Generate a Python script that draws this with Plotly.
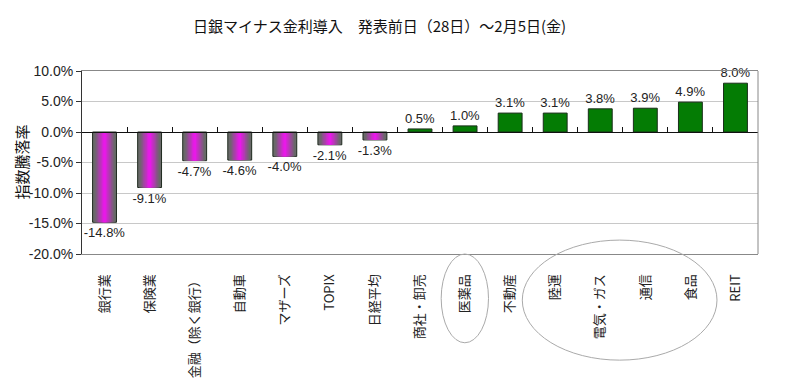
import numpy as np
import plotly.graph_objects as go

categories = ['銀行業', '保険業', '金融（除く銀行）', '自動車', 'マザーズ', 'TOPIX', '日経平均',
              '商社・卸売', '医薬品', '不動産', '陸運', '電気・ガス', '通信', '食品', 'REIT']
values = [-14.8, -9.1, -4.7, -4.6, -4.0, -2.1, -1.3, 0.5, 1.0, 3.1, 3.1, 3.8, 3.9, 4.9, 8.0]
title_text = '日銀マイナス金利導入　発表前日（28日）～2月5日(金)'
y_title = '指数騰落率'
y_ticks = [10, 5, 0, -5, -10, -15, -20]

OFF = 8  # page body margin
W, H = 800 - OFF, 383 - OFF
ML, MR, MT, MB = 82 - OFF, 42, 71 - OFF, 129
pw = W - ML - MR
ph = H - MT - MB

n = len(categories)
xs = list(range(n))
neg_x = [i for i, v in enumerate(values) if v < 0]
neg_v = [values[i] for i in neg_x]
pos_x = [i for i, v in enumerate(values) if v >= 0]
pos_v = [values[i] for i in pos_x]

BW = 0.53
fig = go.Figure()

edge = np.array([105, 105, 105])
center = np.array([242, 20, 242])
N = 9
for k in range(N):
    w = BW * (1 - k / N)
    t = 1 - (k + 0.5) / N
    t = min(1.0, t * 1.25)
    c = (center * (1 - t) + edge * t).astype(int)
    first = (k == 0)
    fig.add_trace(go.Bar(
        x=neg_x, y=neg_v, width=w,
        marker=dict(color=f'rgb({c[0]},{c[1]},{c[2]})',
                    line=dict(color='#1e2a1e' if first else 'rgba(0,0,0,0)', width=1 if first else 0)),
        text=[f'{v:.1f}%' for v in neg_v] if first else None,
        textposition='outside' if first else 'none',
        constraintext='none',
        textfont=dict(size=13, color='#222', family='Liberation Sans, Arial'),
        cliponaxis=False, hoverinfo='skip', showlegend=False,
    ))

fig.add_trace(go.Bar(
    x=pos_x, y=pos_v, width=BW,
    marker=dict(color='#047c04', line=dict(color='#1a2e1a', width=1)),
    text=[f'{v:.1f}%' for v in pos_v], textposition='outside',
    constraintext='none',
    textfont=dict(size=13, color='#222', family='Liberation Sans, Arial'),
    cliponaxis=False, showlegend=False,
))

fig.update_layout(
    width=W, height=H,
    margin=dict(l=ML, r=MR, t=MT, b=MB, pad=0),
    paper_bgcolor='white', plot_bgcolor='white',
    barmode='overlay',
    font=dict(family='Liberation Sans, Arial, Noto Sans CJK JP', size=13, color='#222'),
    xaxis=dict(
        type='linear', range=[-0.5, n - 0.5], automargin=False,
        tickmode='array', tickvals=xs, ticktext=categories,
        tickangle=-90, ticks='', showgrid=False, zeroline=False,
        showline=True, mirror=True, linecolor='#888', linewidth=1,
        tickfont=dict(family='Noto Sans CJK JP, Liberation Sans', size=13, color='#222'),
        ticklabelstandoff=14,
    ),
    xaxis2=dict(
        overlaying='x', anchor='free', position=2 / 3, side='bottom', automargin=False,
        type='linear', range=[-0.5, n - 0.5],
        tickmode='array', tickvals=[i + 0.5 for i in range(n - 1)],
        ticks='inside', ticklen=5, tickcolor='#111', tickwidth=1,
        showticklabels=False, showgrid=False, zeroline=False,
        showline=True, linecolor='#111', linewidth=1,
    ),
    yaxis=dict(
        range=[-20, 10], tickmode='array', tickvals=y_ticks, automargin=False,
        ticktext=[f'{v:.1f}%' for v in y_ticks],
        ticks='outside', ticklen=5, tickcolor='#333',
        showline=True, linecolor='#333', linewidth=1,
        showgrid=True, gridcolor='#c8c8c8', gridwidth=1, zeroline=False,
        tickfont=dict(size=14, color='#222', family='Liberation Sans, Arial'),
    ),
    shapes=[
        dict(type='line', xref='x domain', yref='y domain', x0=1, x1=1, y0=0, y1=1,
             line=dict(color='#888', width=1)),
        dict(type='circle', xref='x', yref='paper', x0=7.47, x1=8.52, y0=0.0, y1=-0.485,
             line=dict(color='#aaa', width=1)),
        dict(type='circle', xref='x', yref='paper', x0=9.27, x1=13.59, y0=0.076, y1=-0.58,
             line=dict(color='#aaa', width=1)),
    ],
    annotations=[
        dict(text=title_text, xref='paper', yref='paper',
             x=(379 - OFF - ML) / pw, y=(H - MB - (26 - OFF)) / ph,
             xanchor='center', yanchor='middle', showarrow=False,
             font=dict(family='Noto Sans CJK JP', size=15, color='#111')),
        dict(text=y_title, xref='paper', yref='paper',
             x=(1 - ML) / pw, y=(H - MB - (162 - OFF)) / ph,
             xanchor='left', yanchor='middle', textangle=-90, showarrow=False,
             borderpad=0,
             font=dict(family='Noto Sans CJK JP', size=15, color='#111')),
    ],
)
fig.add_trace(go.Scatter(x=xs, y=values, xaxis='x2', mode='none', hoverinfo='skip', showlegend=False))

fig.write_html('out.html')
